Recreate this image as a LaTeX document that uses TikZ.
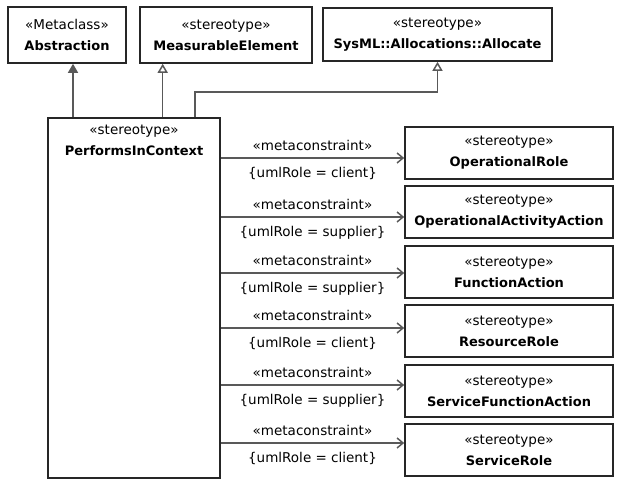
\documentclass[tikz,border=0pt]{standalone}
\usepackage{fontspec}
\setmainfont{DejaVu Sans}
\usetikzlibrary{arrows.meta,positioning,calc}

\begin{document}
\begin{tikzpicture}[x=1pt,y=-1pt,>={Straight Barb[length=6pt,width=10pt]}]
      \tikzset{
	  umlbox/.style={draw=black!85, line width=1.6pt, fill=white, inner sep=0pt, align=center, font=\fontsize{13}{21}\selectfont},
	  conn/.style={draw=black!65, line width=1.5pt},
	  tag/.style={inner sep=0pt, font=\fontsize{13.5}{14}\selectfont},
	  gen/.style={-{Triangle[open,length=9pt,width=10pt]}},
	  ext/.style={-{Triangle[length=9pt,width=10pt]}}
      }

      %-----#1 stereotype, #2 name of the element
      \def\umltext#1#2{{\fontsize{13.5}{21}\selectfont \guillemotleft#1\guillemotright}\\{\fontsize{13}{21}\selectfont\bfseries #2}}

      \useasboundingbox (0,0) rectangle (625,494);

      %-----top row
      \node[umlbox, minimum width=118pt, minimum height=56pt] (abs) at (67,35) {\umltext{Metaclass}{Abstraction}};
      \node[umlbox, minimum width=172pt, minimum height=56pt] (meas) at (226,35) {\umltext{stereotype}{MeasurableElement}};
      \node[umlbox, minimum width=229pt, minimum height=53pt] (alloc) at (437.5,34.5) {\umltext{stereotype}{SysML::Allocations::Allocate}};

      %-----the stereotype itself
      \node[umlbox, minimum width=172pt, minimum height=360pt] (pic) at (134,298) {};
      \node[umlbox, draw=none, fill=none, below=7pt of pic.north] (pictext) {\umltext{stereotype}{PerformsInContext}};

      %-----right column
      \node[umlbox, minimum width=208pt, minimum height=52pt] (oprole) at (509,153) {\umltext{stereotype}{OperationalRole}};
      \node[umlbox, minimum width=208pt, minimum height=52pt] (opact) at (509,212) {\umltext{stereotype}{OperationalActivityAction}};
      \node[umlbox, minimum width=208pt, minimum height=52pt] (funact) at (509,272) {\umltext{stereotype}{FunctionAction}};
      \node[umlbox, minimum width=208pt, minimum height=52pt] (resrole) at (509,331) {\umltext{stereotype}{ResourceRole}};
      \node[umlbox, minimum width=208pt, minimum height=52pt] (srvact) at (509,391) {\umltext{stereotype}{ServiceFunctionAction}};
      \node[umlbox, minimum width=208pt, minimum height=52pt] (srvrole) at (509,450) {\umltext{stereotype}{ServiceRole}};

      %-----extension and generalizations
      \coordinate (abst) at ([xshift=6pt]abs.south);
      \coordinate (meast) at ([xshift=23.5pt]meas.south west);
      \draw[conn, ext] (pic.north -| abst) -- (abst);
      \draw[conn, gen] (pic.north -| meast) -- (meast);
      \draw[conn, gen] ([xshift=61pt]pic.north) -- ++(0,-25) -| (alloc.south);

      %-----metaconstraints
      \coordinate (c1) at ([yshift=-5pt]oprole.west);
      \coordinate (c2) at ([yshift=-5pt]opact.west);
      \coordinate (c3) at ([yshift=-1pt]funact.west);
      \coordinate (c4) at ([yshift=3pt]resrole.west);
      \coordinate (c5) at ([yshift=6pt]srvact.west);
      \coordinate (c6) at ([yshift=7pt]srvrole.west);
      \draw[conn, ->] (pic.east |- c1) -- node[tag, above=7pt] (m1) {\guillemotleft metaconstraint\guillemotright} node[tag, below=8pt] (r1) {\{umlRole = client\}} (c1);
      \draw[conn, ->] (pic.east |- c2) -- node[tag, above=7pt] (m2) {\guillemotleft metaconstraint\guillemotright} node[tag, below=8pt] (r2) {\{umlRole = supplier\}} (c2);
      \draw[conn, ->] (pic.east |- c3) -- node[tag, above=7pt] (m3) {\guillemotleft metaconstraint\guillemotright} node[tag, below=8pt] (r3) {\{umlRole = supplier\}} (c3);
      \draw[conn, ->] (pic.east |- c4) -- node[tag, above=7pt] (m4) {\guillemotleft metaconstraint\guillemotright} node[tag, below=8pt] (r4) {\{umlRole = client\}} (c4);
      \draw[conn, ->] (pic.east |- c5) -- node[tag, above=7pt] (m5) {\guillemotleft metaconstraint\guillemotright} node[tag, below=8pt] (r5) {\{umlRole = supplier\}} (c5);
      \draw[conn, ->] (pic.east |- c6) -- node[tag, above=7pt] (m6) {\guillemotleft metaconstraint\guillemotright} node[tag, below=8pt] (r6) {\{umlRole = client\}} (c6);
\end{tikzpicture}
\end{document}
